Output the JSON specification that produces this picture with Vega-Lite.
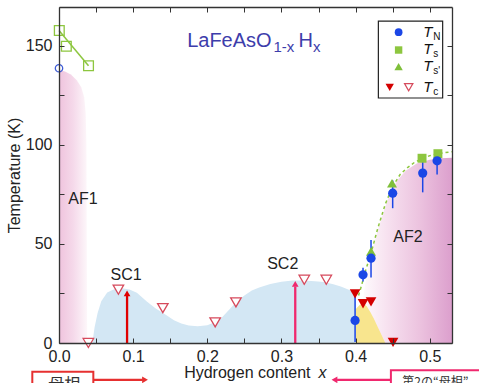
{
  "$schema": "https://vega.github.io/schema/vega-lite/v6.json",
  "width": 393,
  "height": 336,
  "autosize": {"type": "none"},
  "padding": {"left": 59, "top": 7, "right": 27, "bottom": 40},
  "background": "white",
  "config": {
    "view": {"stroke": null},
    "font": "Liberation Sans",
    "text": {"font": "Liberation Sans"},
    "axis": {"labelFont": "Liberation Sans", "titleFont": "Liberation Sans", "grid": false, "domainColor": "#333", "domainWidth": 1.3, "tickColor": "#333", "tickWidth": 1, "labelColor": "#222", "titleColor": "#222"}
  },
  "datasets": {
    "af1": [{"x":0,"T":137.7},{"x":0.008,"T":137},{"x":0.016,"T":135.5},{"x":0.024,"T":132.5},{"x":0.03,"T":129},{"x":0.034,"T":124},{"x":0.036,"T":116},{"x":0.037,"T":100},{"x":0.0375,"T":50},{"x":0.038,"T":0}],
    "af2": [{"x":0.404,"T":0},{"x":0.406,"T":12},{"x":0.41,"T":22},{"x":0.413,"T":30},{"x":0.418,"T":40},{"x":0.424,"T":49},{"x":0.43,"T":57},{"x":0.438,"T":66.5},{"x":0.446,"T":75},{"x":0.456,"T":82},{"x":0.468,"T":87},{"x":0.483,"T":90.7},{"x":0.5,"T":92.5},{"x":0.515,"T":93.2},{"x":0.53,"T":93.5}],
    "sc": [{"x":0.045,"T":0},{"x":0.048,"T":8},{"x":0.052,"T":15},{"x":0.057,"T":21},{"x":0.065,"T":25.5},{"x":0.075,"T":27.3},{"x":0.085,"T":27.6},{"x":0.095,"T":27},{"x":0.105,"T":25.3},{"x":0.118,"T":21},{"x":0.13,"T":17.5},{"x":0.145,"T":14},{"x":0.155,"T":11.5},{"x":0.165,"T":9.8},{"x":0.175,"T":8.8},{"x":0.187,"T":8.4},{"x":0.2,"T":9},{"x":0.21,"T":10.5},{"x":0.22,"T":13},{"x":0.23,"T":17},{"x":0.24,"T":21},{"x":0.25,"T":24},{"x":0.26,"T":26.5},{"x":0.27,"T":28},{"x":0.285,"T":29.8},{"x":0.3,"T":30.9},{"x":0.315,"T":31.5},{"x":0.33,"T":31.5},{"x":0.345,"T":31.2},{"x":0.357,"T":30.8},{"x":0.37,"T":29.7},{"x":0.38,"T":28.5},{"x":0.39,"T":27},{"x":0.3995,"T":25.5},{"x":0.4,"T":0}],
    "yellow": [{"x":0.4,"T":17},{"x":0.405,"T":19},{"x":0.41,"T":20},{"x":0.415,"T":18.5},{"x":0.42,"T":15.5},{"x":0.425,"T":12},{"x":0.43,"T":8},{"x":0.435,"T":4},{"x":0.44,"T":0}],
    "tsline": [{"x":0,"T":157.6},{"x":0.0398,"T":139.9}],
    "tsdash": [{"x":0.404,"T":24},{"x":0.408,"T":29},{"x":0.413,"T":36},{"x":0.418,"T":42},{"x":0.422,"T":47},{"x":0.43,"T":58},{"x":0.44,"T":70},{"x":0.45,"T":79},{"x":0.46,"T":85},{"x":0.47,"T":88.5},{"x":0.48,"T":91.3},{"x":0.49,"T":93},{"x":0.5,"T":94.5},{"x":0.51,"T":95.5},{"x":0.53,"T":96.5}],
    "arrows": [{"x":0.0918,"T":0,"x2":0.0918,"T2":24,"k":"a"},{"x":0.3186,"T":0,"x2":0.3186,"T2":28.5,"k":"b"},{"x":0.0463,"T":-18.6,"x2":0.113,"T2":-18.6,"k":"c"},{"x":0.4476,"T":-18.6,"x2":0.375,"T2":-18.6,"k":"d"}],
    "heads": [{"x":0.0918,"T":25,"k":"a","d":"up"},{"x":0.3186,"T":29.8,"k":"b","d":"up"},{"x":0.116,"T":-18.6,"k":"c","d":"right"},{"x":0.3715,"T":-18.6,"k":"d","d":"left"}],
    "tnerr": [{"x":0.3993,"T":0.5,"T2":25},{"x":0.41,"T":31,"T2":38},{"x":0.4208,"T":33,"T2":52},{"x":0.45,"T":68,"T2":82},{"x":0.4905,"T":76,"T2":95},{"x":0.5099,"T":85,"T2":97}],
    "points": [
      {"x":0.0004,"T":157.6,"s":"Tso"},{"x":0.0099,"T":149.7,"s":"Tso"},{"x":0.0398,"T":139.9,"s":"Tso"},
      {"x":0,"T":138.6,"s":"TNo"},
      {"x":0.0396,"T":0,"s":"Tco"},{"x":0.0801,"T":26.9,"s":"Tco"},{"x":0.14,"T":17.6,"s":"Tco"},{"x":0.2106,"T":10.4,"s":"Tco"},{"x":0.2386,"T":20.5,"s":"Tco"},{"x":0.3308,"T":31.9,"s":"Tco"},{"x":0.3605,"T":31.9,"s":"Tco"},
      {"x":0.4896,"T":93.2,"s":"Ts"},{"x":0.511,"T":95.5,"s":"Ts"},
      {"x":0.4491,"T":80.6,"s":"Tsp"},{"x":0.4208,"T":46.2,"s":"Tsp"},
      {"x":0.3993,"T":11.4,"s":"TN"},{"x":0.41,"T":34.4,"s":"TN"},{"x":0.4208,"T":42.8,"s":"TN"},{"x":0.45,"T":75.6,"s":"TN"},{"x":0.4905,"T":85.7,"s":"TN"},{"x":0.5099,"T":91.9,"s":"TN"},
      {"x":0.3993,"T":24.8,"s":"Tc"},{"x":0.41,"T":19.8,"s":"Tc"},{"x":0.4208,"T":20.7,"s":"Tc"},{"x":0.4505,"T":0.3,"s":"Tc"}
    ],
    "regions": [{"x":0.0324,"T":72.7,"label":"AF1"},{"x":0.0905,"T":34.4,"label":"SC1"},{"x":0.3017,"T":40,"label":"SC2"},{"x":0.4705,"T":53.3,"label":"AF2"}],
    "titlemain": [{"x":0.1728,"T":149.3,"label":"LaFeAsO"},{"x":0.3231,"T":149.3,"label":"H"}],
    "titlesub": [{"x":0.2893,"T":146.8,"label":"1-x"},{"x":0.3425,"T":146.8,"label":"x"}],
    "legendbox": [{"x":0.4307,"x2":0.5174,"T":162.4,"T2":123.6}],
    "legendpts": [{"x":0.458,"T":156.8,"s":"TN"},{"x":0.458,"T":147.8,"s":"Ts"},{"x":0.458,"T":139.4,"s":"Tsp"},{"x":0.446,"T":129,"s":"Tc"},{"x":0.4716,"T":129,"s":"Tco"}],
    "legendT": [{"x":0.4911,"T":154.2,"label":"T"},{"x":0.4911,"T":145.8,"label":"T"},{"x":0.4911,"T":137.2,"label":"T"},{"x":0.4911,"T":126.5,"label":"T"}],
    "legendsub": [{"x":0.5046,"T":152.8,"label":"N"},{"x":0.5046,"T":144.3,"label":"s"},{"x":0.5046,"T":135.7,"label":"s'"},{"x":0.5046,"T":125,"label":"c"}],
    "xtitle": [{"x":0.1688,"T":-17.6,"label":"Hydrogen content"}],
    "xtitlex": [{"x":0.35,"T":-17.6,"label":"x"}],
    "boxes": [{"x":-0.036,"x2":0.0463,"T":-14.5,"T2":-40,"k":"c"},{"x":0.4476,"x2":0.7,"T":-13.8,"T2":-40,"k":"d"}],
    "note1": [{"x":-0.0144,"T":-17.2,"label":"母相"}],
    "note2": [{"x":0.463,"T":-17.2,"label":"第2の“母相”"}]
  },
  "encoding": {
    "x": {"field": "x", "type": "quantitative", "scale": {"domain": [0, 0.53], "nice": false, "zero": false}, "axis": null},
    "y": {"field": "T", "type": "quantitative", "scale": {"domain": [0, 169.5], "nice": false, "zero": false}, "axis": null}
  },
  "layer": [
    {
      "data": {"name": "af1"},
      "mark": {"type": "area", "color": {"gradient": "linear", "x1": 0, "y1": 0, "x2": 1, "y2": 0, "stops": [{"offset": 0, "color": "#efc3dd"}, {"offset": 0.5, "color": "#f5d9ea"}, {"offset": 1, "color": "#fdf7fa"}]}},
      "encoding": {
        "x": {"field": "x", "type": "quantitative", "scale": {"domain": [0, 0.53], "nice": false, "zero": false},
          "axis": {"orient": "bottom", "values": [0, 0.05, 0.1, 0.15, 0.2, 0.25, 0.3, 0.35, 0.4, 0.45, 0.5], "labelExpr": "abs(datum.value*10 - round(datum.value*10)) < 0.001 ? format(datum.value, '.1f') : ''", "title": null, "tickSize": -5, "labelPadding": 10, "labelFlush": false, "labelOverlap": false, "labelFontSize": 16, "zindex": 1}},
        "y": {"field": "T", "type": "quantitative", "scale": {"domain": [0, 169.5], "nice": false, "zero": false},
          "axis": {"orient": "left", "values": [0, 25, 50, 75, 100, 125, 150], "labelExpr": "datum.value % 50 == 0 ? datum.label : ''", "title": "Temperature (K)", "titleFontSize": 16, "titleFontWeight": "normal", "titlePadding": 3, "tickSize": -5, "labelPadding": 12, "labelOverlap": false, "labelFontSize": 16, "zindex": 1}}
      }
    },
    {
      "data": {"name": "af2"},
      "mark": {"type": "area", "color": {"gradient": "linear", "x1": 0, "y1": 0, "x2": 1, "y2": 0, "stops": [{"offset": 0, "color": "#ffffff"}, {"offset": 0.3, "color": "#f7e2f0"}, {"offset": 0.65, "color": "#ecc3df"}, {"offset": 1, "color": "#dc9fcd"}]}},
      "encoding": {
        "x": {"field": "x", "type": "quantitative", "scale": {"domain": [0, 0.53], "nice": false, "zero": false},
          "axis": {"orient": "top", "values": [0, 0.05, 0.1, 0.15, 0.2, 0.25, 0.3, 0.35, 0.4, 0.45, 0.5], "labels": false, "title": null, "tickSize": -5, "zindex": 1}},
        "y": {"field": "T", "type": "quantitative", "scale": {"domain": [0, 169.5], "nice": false, "zero": false},
          "axis": {"orient": "right", "values": [0, 25, 50, 75, 100, 125, 150], "labels": false, "title": null, "tickSize": -5, "zindex": 1}}
      }
    },
    {"data": {"name": "sc"}, "mark": {"type": "area", "color": "#d3e7f4"}},
    {"data": {"name": "yellow"}, "mark": {"type": "area", "color": "#f8e58e"}},
    {"data": {"name": "tsline"}, "mark": {"type": "line", "color": "#8dc63f", "strokeWidth": 1.5}},
    {"data": {"name": "tsdash"}, "mark": {"type": "line", "color": "#8dc63f", "strokeWidth": 1.5, "strokeDash": [3, 3]}},
    {
      "data": {"name": "arrows"},
      "mark": {"type": "rule", "strokeWidth": 2.3},
      "encoding": {
        "x2": {"field": "x2"}, "y2": {"field": "T2"},
        "color": {"field": "k", "type": "nominal", "scale": {"domain": ["a", "b", "c", "d"], "range": ["#e00000", "#f0286e", "#e63030", "#f0286e"]}, "legend": null}
      }
    },
    {
      "data": {"name": "heads"},
      "mark": {"type": "point", "filled": true, "opacity": 1, "size": 45},
      "encoding": {
        "color": {"field": "k", "type": "nominal", "scale": {"domain": ["a", "b", "c", "d"], "range": ["#e00000", "#f0286e", "#e63030", "#f0286e"]}, "legend": null},
        "shape": {"field": "d", "type": "nominal", "scale": {"domain": ["up", "right", "left"], "range": ["triangle-up", "triangle-right", "triangle-left"]}, "legend": null}
      }
    },
    {"data": {"name": "tnerr"}, "mark": {"type": "rule", "color": "#1b46e6", "strokeWidth": 1.5}, "encoding": {"y2": {"field": "T2"}}},
    {"data": {"name": "points"}, "transform": [{"filter": {"field": "s", "equal": "Tso"}}], "mark": {"type": "point", "shape": "square", "size": 95, "filled": false, "stroke": "#8dc63f", "strokeWidth": 1.3, "opacity": 1}},
    {"data": {"name": "points"}, "transform": [{"filter": {"field": "s", "equal": "TNo"}}], "mark": {"type": "point", "shape": "circle", "size": 55, "filled": false, "stroke": "#3d5bd6", "strokeWidth": 1.3, "opacity": 1}},
    {"data": {"name": "points"}, "transform": [{"filter": {"field": "s", "equal": "Tco"}}], "mark": {"type": "point", "shape": "triangle-down", "size": 110, "fill": "white", "stroke": "#d64a5c", "strokeWidth": 1.3, "opacity": 1}},
    {"data": {"name": "points"}, "transform": [{"filter": {"field": "s", "equal": "Ts"}}], "mark": {"type": "point", "shape": "square", "size": 80, "filled": true, "color": "#8dc63f", "opacity": 1}},
    {"data": {"name": "points"}, "transform": [{"filter": {"field": "s", "equal": "Tsp"}}], "mark": {"type": "point", "shape": "triangle-up", "size": 100, "filled": true, "color": "#7fbf3a", "opacity": 1}},
    {"data": {"name": "points"}, "transform": [{"filter": {"field": "s", "equal": "TN"}}], "mark": {"type": "point", "shape": "circle", "size": 85, "filled": true, "color": "#1b46e6", "opacity": 1}},
    {"data": {"name": "points"}, "transform": [{"filter": {"field": "s", "equal": "Tc"}}], "mark": {"type": "point", "shape": "triangle-down", "size": 115, "filled": true, "color": "#d40000", "opacity": 1}},
    {"data": {"name": "regions"}, "mark": {"type": "text", "fontSize": 16, "color": "#222", "align": "center", "baseline": "middle"}, "encoding": {"text": {"field": "label"}}},
    {"data": {"name": "titlemain"}, "mark": {"type": "text", "fontSize": 20, "color": "#3d3dab", "align": "left", "baseline": "alphabetic"}, "encoding": {"text": {"field": "label"}}},
    {"data": {"name": "titlesub"}, "mark": {"type": "text", "fontSize": 15, "color": "#3d3dab", "align": "left", "baseline": "alphabetic"}, "encoding": {"text": {"field": "label"}}},
    {"data": {"name": "legendbox"}, "mark": {"type": "rect", "fill": "white", "stroke": "#222", "strokeWidth": 1.2}, "encoding": {"x2": {"field": "x2"}, "y2": {"field": "T2"}}},
    {"data": {"name": "legendpts"}, "transform": [{"filter": {"field": "s", "equal": "TN"}}], "mark": {"type": "point", "shape": "circle", "size": 60, "filled": true, "color": "#1b46e6", "opacity": 1}},
    {"data": {"name": "legendpts"}, "transform": [{"filter": {"field": "s", "equal": "Ts"}}], "mark": {"type": "point", "shape": "square", "size": 55, "filled": true, "color": "#8dc63f", "opacity": 1}},
    {"data": {"name": "legendpts"}, "transform": [{"filter": {"field": "s", "equal": "Tsp"}}], "mark": {"type": "point", "shape": "triangle-up", "size": 70, "filled": true, "color": "#7fbf3a", "opacity": 1}},
    {"data": {"name": "legendpts"}, "transform": [{"filter": {"field": "s", "equal": "Tc"}}], "mark": {"type": "point", "shape": "triangle-down", "size": 70, "filled": true, "color": "#d40000", "opacity": 1}},
    {"data": {"name": "legendpts"}, "transform": [{"filter": {"field": "s", "equal": "Tco"}}], "mark": {"type": "point", "shape": "triangle-down", "size": 70, "fill": "white", "stroke": "#d64a5c", "strokeWidth": 1.2, "opacity": 1}},
    {"data": {"name": "legendT"}, "mark": {"type": "text", "fontSize": 15, "fontStyle": "italic", "color": "#111", "align": "left", "baseline": "alphabetic"}, "encoding": {"text": {"field": "label"}}},
    {"data": {"name": "legendsub"}, "mark": {"type": "text", "fontSize": 10, "color": "#111", "align": "left", "baseline": "alphabetic"}, "encoding": {"text": {"field": "label"}}},
    {"data": {"name": "xtitle"}, "mark": {"type": "text", "fontSize": 16, "color": "#222", "align": "left", "baseline": "alphabetic"}, "encoding": {"text": {"field": "label"}}},
    {"data": {"name": "xtitlex"}, "mark": {"type": "text", "fontSize": 16, "fontStyle": "italic", "color": "#222", "align": "left", "baseline": "alphabetic"}, "encoding": {"text": {"field": "label"}}},
    {
      "data": {"name": "boxes"},
      "mark": {"type": "rect", "filled": false, "strokeWidth": 2},
      "encoding": {
        "x2": {"field": "x2"}, "y2": {"field": "T2"},
        "color": {"field": "k", "type": "nominal", "scale": {"domain": ["a", "b", "c", "d"], "range": ["#e00000", "#f0286e", "#e63030", "#f0286e"]}, "legend": null}
      }
    },
    {"data": {"name": "note1"}, "mark": {"type": "text", "font": "Noto Sans CJK JP", "fontSize": 16, "color": "#333", "align": "left", "baseline": "top"}, "encoding": {"text": {"field": "label"}}},
    {"data": {"name": "note2"}, "mark": {"type": "text", "font": "Noto Sans CJK JP", "fontSize": 12, "color": "#333", "align": "left", "baseline": "top"}, "encoding": {"text": {"field": "label"}}}
  ]
}
